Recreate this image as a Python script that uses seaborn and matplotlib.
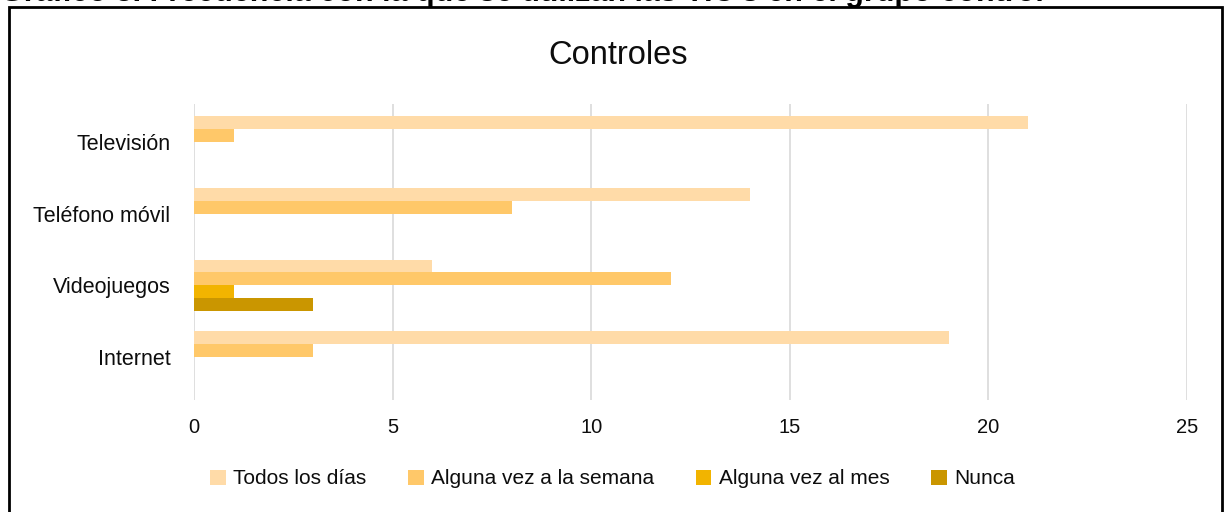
import matplotlib
matplotlib.use("Agg")
import matplotlib.pyplot as plt
import seaborn as sns
import pandas as pd
from matplotlib.patches import Rectangle

categories = ["Televisión", "Teléfono móvil", "Videojuegos", "Internet"]
series = ["Todos los días", "Alguna vez a la semana", "Alguna vez al mes", "Nunca"]
todos = [21, 14, 6, 19]
semana = [1, 8, 12, 3]
mes = [0, 0, 1, 0]
nunca = [0, 0, 3, 0]
xticks = [0, 5, 10, 15, 20, 25]
colors = ["#FFDBA8", "#FFC869", "#F2B400", "#CA9600"]

rows = []
for name, vals in zip(series, [todos, semana, mes, nunca]):
    for c, v in zip(categories, vals):
        rows.append({"cat": c, "serie": name, "val": v})
df = pd.DataFrame(rows)

sns.set_theme(style="white")
plt.rcParams["font.family"] = ["Liberation Sans", "DejaVu Sans"]
plt.rcParams["text.color"] = "#0D0D0D"
plt.rcParams["xtick.color"] = "#0D0D0D"
plt.rcParams["ytick.color"] = "#0D0D0D"

fig = plt.figure(figsize=(12.25, 5.12), dpi=100)
ax = fig.add_axes([194/1225, 1-400/512, (1187-194)/1225, (400-104)/512])

sns.barplot(data=df, x="val", y="cat", hue="serie", order=categories,
            hue_order=series, palette=colors, orient="h", width=0.72,
            saturation=1, ax=ax, legend=True, edgecolor="none")

ax.set_xlim(0, 25)
ax.set_ylim(3.6, -0.53)
ax.set_xticks(xticks)
ax.set_xticklabels([str(t) for t in xticks], fontsize=14.5)
ax.tick_params(axis="y", labelsize=15.5, length=0, pad=17)
ax.tick_params(axis="x", length=0, pad=13)
ax.set_xlabel("")
ax.set_ylabel("")
ax.grid(axis="x", color="#D9D9D9", linewidth=1.2)
ax.set_axisbelow(True)
for s in ax.spines.values():
    s.set_visible(False)

handles, labels = ax.get_legend_handles_labels()
ax.get_legend().remove()
fig.legend(handles, labels, loc="center", bbox_to_anchor=(0.5, 1-479/512),
           ncol=4, frameon=False, fontsize=15, handlelength=0.75,
           handleheight=0.75, handletextpad=0.35, columnspacing=2.0)

fig.text(618/1225, 1-55/512, "Controles", ha="center", va="center", fontsize=23.5)

fig.text(0.0, 1-1.5/512, "Gráfico 3. Frecuencia con la que se utilizan las TIC's en el grupo control",
         ha="left", va="baseline", fontsize=22, fontweight="bold", color="black")

fig.patches.append(Rectangle((8.5/1225, -0.05), (1221.5-8.5)/1225, 1.05-7/512,
                             transform=fig.transFigure, fill=False,
                             edgecolor="black", linewidth=2.0))

fig.savefig("out.png", dpi=100)
